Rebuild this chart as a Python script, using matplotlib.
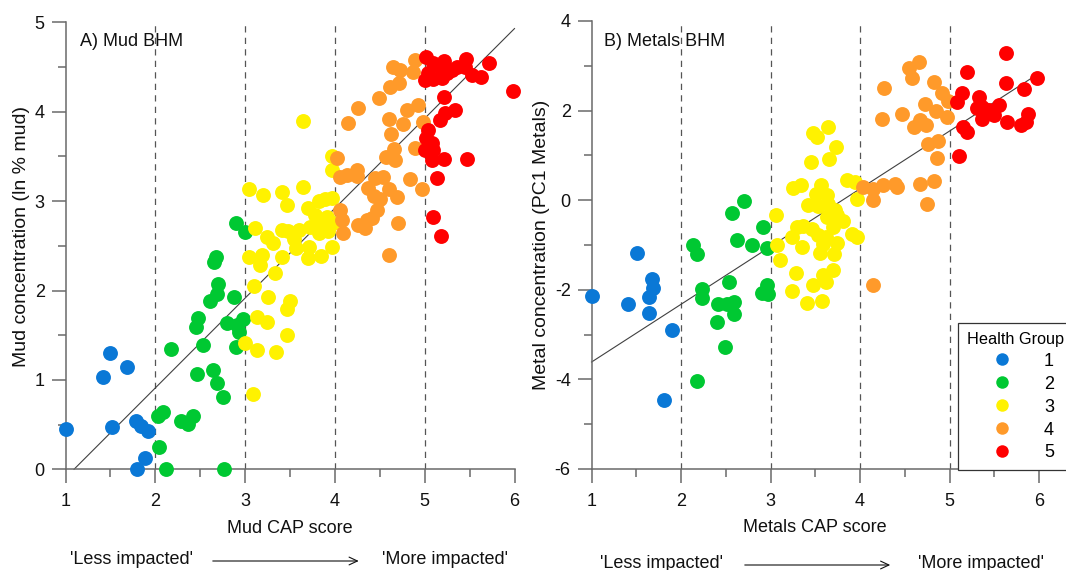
import matplotlib
matplotlib.use("Agg")
import matplotlib.pyplot as plt
from matplotlib.lines import Line2D
from matplotlib.patches import FancyArrowPatch

plt.rcParams['font.family'] = ['Liberation Sans', 'DejaVu Sans']
plt.rcParams['axes.unicode_minus'] = False

# ---------------- data ----------------
groups = ['1', '2', '3', '4', '5']
group_colors = ['#0A78D6', '#00C832', '#FFF200', '#FF9A2A', '#FF0000']

# Panel A: Mud CAP score vs ln % mud
mud_x1 = [1.00, 1.50, 1.42, 1.68, 1.52, 1.785, 1.84, 1.915, 1.89, 1.80]
mud_y1 = [0.455, 1.305, 1.03, 1.14, 0.47, 0.54, 0.485, 0.43, 0.13, 0.0]

mud_x2 = [2.895, 3.00, 2.676, 2.654, 2.694, 2.683, 2.609, 2.873, 2.48, 2.453,
          2.795, 2.906, 2.973, 2.936, 2.899, 2.171, 2.535, 2.468, 2.642, 2.691,
          2.75, 2.034, 2.09, 2.283, 2.368, 2.416, 2.038, 2.123, 2.769]
mud_y2 = [2.76, 2.65, 2.38, 2.315, 2.073, 1.957, 1.887, 1.924, 1.69, 1.596,
          1.633, 1.614, 1.678, 1.54, 1.372, 1.35, 1.39, 1.07, 1.111, 0.962,
          0.813, 0.60, 0.638, 0.54, 0.507, 0.60, 0.246, 0.0, 0.0]

mud_x3 = [3.648, 3.964, 3.964, 3.047, 3.196, 3.408, 3.463, 3.648, 3.704, 3.826,
          3.89, 3.964, 3.114, 3.24, 3.314, 3.407, 3.48, 3.60, 3.723, 3.834,
          3.909, 3.975, 3.826, 3.047, 3.185, 3.166, 3.333, 3.408, 3.567, 3.715,
          3.704, 3.845, 3.964, 3.103, 3.25, 3.50, 3.463, 3.129, 3.24, 3.463,
          2.999, 3.136, 3.344, 3.085, 3.78, 3.55, 3.92]
mud_y3 = [3.90, 3.50, 3.348, 3.13, 3.07, 3.105, 2.956, 3.154, 2.92, 3.005,
          3.02, 3.03, 2.695, 2.60, 2.528, 2.677, 2.67, 2.677, 2.714, 2.789,
          2.826, 2.76, 2.64, 2.378, 2.397, 2.285, 2.192, 2.371, 2.472, 2.49,
          2.36, 2.386, 2.49, 2.05, 1.93, 1.88, 1.79, 1.707, 1.65, 1.50,
          1.41, 1.335, 1.315, 0.839, 2.84, 2.58, 2.66]

mud_x4 = [4.892, 4.873, 4.65, 4.725, 4.614, 4.717, 4.494, 4.26, 4.149, 4.606,
          4.762, 4.80, 4.929, 4.985, 4.621, 4.892, 4.662, 4.569, 4.67, 4.02,
          4.057, 4.131, 4.243, 4.25, 4.446, 4.532, 4.372, 4.606, 4.688, 4.502,
          4.836, 4.967, 4.057, 4.075, 4.094, 4.465, 4.41, 4.354, 4.261, 4.335,
          4.699, 4.606, 4.43]
mud_y4 = [4.578, 4.447, 4.503, 4.466, 4.28, 4.317, 4.157, 4.038, 3.87, 3.915,
          3.862, 4.019, 4.075, 3.888, 3.75, 3.59, 3.58, 3.497, 3.46, 3.48,
          3.273, 3.292, 3.348, 3.28, 3.255, 3.273, 3.143, 3.132, 3.05, 3.02,
          3.244, 3.132, 2.90, 2.788, 2.64, 2.90, 2.808, 2.788, 2.733, 2.696,
          2.752, 2.397, 3.06]

mud_x5 = [5.014, 5.215, 5.46, 5.72, 5.987, 5.624, 5.53, 5.356, 5.30, 5.17,
          5.095, 5.04, 5.003, 5.095, 5.19, 5.245, 5.449, 5.215, 5.337, 5.226,
          5.17, 5.04, 5.014, 5.078, 5.003, 5.095, 5.078, 5.215, 5.468, 5.14,
          5.095, 5.178]
mud_y5 = [4.615, 4.57, 4.594, 4.54, 4.235, 4.385, 4.41, 4.503, 4.466, 4.503,
          4.54, 4.43, 4.354, 4.362, 4.373, 4.43, 4.503, 4.168, 4.019, 3.99,
          3.907, 3.795, 3.702, 3.647, 3.572, 3.572, 3.46, 3.467, 3.467, 3.262,
          2.826, 2.61]

# Panel B: Metals CAP score vs PC1 metals
met_x1 = [1.0, 1.505, 1.411, 1.673, 1.684, 1.646, 1.646, 1.896, 1.81]
met_y1 = [-2.145, -1.17, -2.31, -1.75, -1.96, -2.16, -2.51, -2.89, -4.45]

met_x2 = [2.704, 2.566, 2.913, 2.629, 2.797, 2.957, 2.138, 2.183, 2.54, 2.231,
          2.238, 2.417, 2.51, 2.592, 2.595, 2.405, 2.492, 2.175, 2.902, 2.957,
          2.975]
met_y2 = [-0.022, -0.275, -0.596, -0.894, -0.99, -1.066, -1.006, -1.207, -1.826, -1.975,
          -2.183, -2.31, -2.324, -2.272, -2.532, -2.72, -3.278, -4.045, -2.07, -1.90,
          -2.087]

met_x3 = [3.646, 3.478, 3.523, 3.732, 3.657, 3.453, 3.255, 3.341, 3.561, 3.508,
          3.628, 3.851, 3.944, 3.97, 3.423, 3.534, 3.646, 3.72, 3.74, 3.807,
          3.061, 3.628, 3.702, 3.293, 3.367, 3.237, 3.46, 3.534, 3.62, 3.74,
          3.907, 3.963, 3.349, 3.59, 3.553, 3.71, 3.069, 3.106, 3.285, 3.59,
          3.702, 3.478, 3.62, 3.237, 3.405, 3.58]
met_y3 = [1.624, 1.49, 1.40, 1.177, 0.909, 0.842, 0.275, 0.335, 0.35, 0.134,
          0.112, 0.447, 0.41, 0.037, -0.097, -0.134, -0.089, -0.223, -0.335, -0.462,
          -0.32, -0.372, -0.596, -0.596, -0.581, -0.819, -0.633, -0.782, -0.82, -0.954,
          -0.76, -0.82, -1.043, -0.983, -1.177, -1.192, -1.006, -1.341, -1.624, -1.676,
          -1.564, -1.90, -1.825, -2.026, -2.286, -2.25]

met_x4 = [4.659, 4.551, 4.585, 4.272, 4.83, 4.913, 4.987, 4.726, 4.849, 4.976,
          4.671, 4.737, 4.603, 4.473, 4.249, 4.756, 4.875, 4.864, 4.037, 4.149,
          4.149, 4.26, 4.391, 4.417, 4.671, 4.827, 4.752, 4.142]
met_y4 = [3.09, 2.94, 2.72, 2.51, 2.644, 2.384, 2.219, 2.145, 1.996, 1.848,
          1.788, 1.676, 1.624, 1.922, 1.81, 1.251, 1.318, 0.946, 0.298, 0.26,
          0.0, 0.335, 0.372, 0.298, 0.357, 0.432, -0.089, -1.885]

met_x5 = [5.628, 5.192, 5.628, 5.974, 5.836, 5.143, 5.087, 5.333, 5.36, 5.304,
          5.445, 5.556, 5.497, 5.36, 5.64, 5.88, 5.855, 5.796, 5.148, 5.192,
          5.11]
met_y5 = [3.278, 2.853, 2.622, 2.733, 2.473, 2.399, 2.197, 2.308, 2.085, 2.048,
          2.011, 2.123, 1.899, 1.81, 1.75, 1.922, 1.75, 1.676, 1.638, 1.527,
          0.983]

# fitted lines (intercept, slope, x-range)
mud_fit = (-1.10, 1.005, 1.095, 6.0)
met_fit = (-4.902, 1.289, 1.0, 6.0)

x_ticks = [1, 2, 3, 4, 5, 6]
x_ticklabels = ['1', '2', '3', '4', '5', '6']
mud_yticks = [0, 1, 2, 3, 4, 5]
mud_yticklabels = ['0', '1', '2', '3', '4', '5']
met_yticks = [-6, -4, -2, 0, 2, 4]
met_yticklabels = ['-6', '-4', '-2', '0', '2', '4']
boundaries = [2, 3, 4, 5]

# ---------------- figure ----------------
W, H = 1066, 570
fig = plt.figure(figsize=(W / 100, H / 100), dpi=100)
ax1 = fig.add_axes([65.5 / W, (H - 469.3) / H, 449 / W, 447 / H])
ax2 = fig.add_axes([591.5 / W, (H - 469) / H, 447.5 / W, 448 / H])

FS = 13
FS_Y = 14
TXT = '#111111'
spine_c = '#6a6a6a'


def style(ax, yticks, yticklabels, ylim, minor_y):
    ax.set_xlim(1, 6)
    ax.set_ylim(*ylim)
    for s in ['top', 'right']:
        ax.spines[s].set_visible(False)
    for s in ['left', 'bottom']:
        ax.spines[s].set_color(spine_c)
        ax.spines[s].set_linewidth(1.1)
    ax.set_xticks(x_ticks)
    ax.set_xticklabels(x_ticklabels)
    ax.set_xticks([1.5, 2.5, 3.5, 4.5, 5.5], minor=True)
    ax.set_yticks(yticks)
    ax.set_yticklabels(yticklabels)
    ax.set_yticks(minor_y, minor=True)
    ax.tick_params(which='major', length=10, width=1.1, color=spine_c,
                   labelsize=FS, labelcolor=TXT)
    ax.tick_params(axis='x', which='major', pad=7)
    ax.tick_params(axis='y', which='major', pad=5)
    ax.tick_params(which='minor', length=5.5, width=1.1, color=spine_c)
    for b in boundaries:
        ax.axvline(b, color='#555555', lw=0.9, dashes=(5, 4.2), zorder=1)


style(ax1, mud_yticks, mud_yticklabels, (0, 5), [0.5, 1.5, 2.5, 3.5, 4.5])
style(ax2, met_yticks, met_yticklabels, (-6, 4), [-5, -3, -1, 1, 3])

mud_sets = [(mud_x1, mud_y1), (mud_x2, mud_y2), (mud_x3, mud_y3),
            (mud_x4, mud_y4), (mud_x5, mud_y5)]
met_sets = [(met_x1, met_y1), (met_x2, met_y2), (met_x3, met_y3),
            (met_x4, met_y4), (met_x5, met_y5)]

for ax, fit in [(ax1, mud_fit), (ax2, met_fit)]:
    a, b, x0, x1 = fit
    ax.plot([x0, x1], [a + b * x0, a + b * x1], color='#404040', lw=0.8,
            zorder=2, clip_on=False)

MS = 115
for ax, sets in [(ax1, mud_sets), (ax2, met_sets)]:
    for i, (xs, ys) in enumerate(sets):
        ax.scatter(xs, ys, s=MS, color=group_colors[i], linewidths=0,
                   zorder=3 + i, clip_on=False)

# titles
ax1.text(80.3, H - 41.7, 'A) Mud BHM', transform=None, fontsize=FS,
         ha='left', va='center', color=TXT)
ax2.text(603.8, H - 41.7, 'B) Metals BHM', transform=None, fontsize=FS,
         ha='left', va='center', color=TXT)

# axis labels
ax1.set_xlabel('Mud CAP score', fontsize=FS, color=TXT)
ax2.set_xlabel('Metals CAP score', fontsize=FS, color=TXT)
ax1.xaxis.set_label_coords(0.5, -(520.0 - 469.3) / 447)
ax2.xaxis.set_label_coords(0.5, -(519.0 - 469) / 448)
ax1.set_ylabel('Mud concentration (ln % mud)', fontsize=FS_Y, color=TXT)
ax2.set_ylabel('Metal concentration (PC1 Metals)', fontsize=FS_Y, color=TXT)
ax1.yaxis.set_label_coords((30.5 - 65.5) / 449, 0.52)
ax2.yaxis.set_label_coords((550.5 - 591.5) / 447.5, 0.5)

# impact annotations (figure pixel coords)
fig.text(132 / W, (H - 560) / H, "'Less impacted'", fontsize=FS, ha='center',
         va='center', color=TXT)
fig.text(444.5 / W, (H - 560) / H, "'More impacted'", fontsize=FS, ha='center',
         va='center', color=TXT)
fig.text(662 / W, (H - 563.5) / H, "'Less impacted'", fontsize=FS, ha='center',
         va='center', color=TXT)
fig.text(981 / W, (H - 563.5) / H, "'More impacted'", fontsize=FS, ha='center',
         va='center', color=TXT)
for x0, x1, y in [(210, 361.5, 561), (742, 893, 565)]:
    arr = FancyArrowPatch((x0 / W, (H - y) / H), (x1 / W, (H - y) / H),
                          transform=fig.transFigure,
                          arrowstyle='->,head_length=6,head_width=2.8',
                          lw=0.8, color=TXT, mutation_scale=1)
    fig.add_artist(arr)

# legend
handles = [Line2D([], [], marker='o', linestyle='none', markersize=9,
                  markerfacecolor=c, markeredgewidth=0) for c in group_colors]
fs_px = FS * 100 / 72
leg = ax2.legend(handles, groups, title='Health Group', fontsize=FS,
                 title_fontsize=11.7, loc='upper left',
                 bbox_to_anchor=(958.3 / W, (H - 322.7) / H),
                 bbox_transform=fig.transFigure, borderaxespad=0,
                 borderpad=9 / fs_px, handlelength=70 / fs_px,
                 handletextpad=6.7 / fs_px, labelspacing=0.33,
                 alignment='left', fancybox=False, framealpha=1,
                 edgecolor='#333333')
leg.get_frame().set_linewidth(0.9)
leg.set_zorder(20)

fig.savefig('out.png', dpi=100)
